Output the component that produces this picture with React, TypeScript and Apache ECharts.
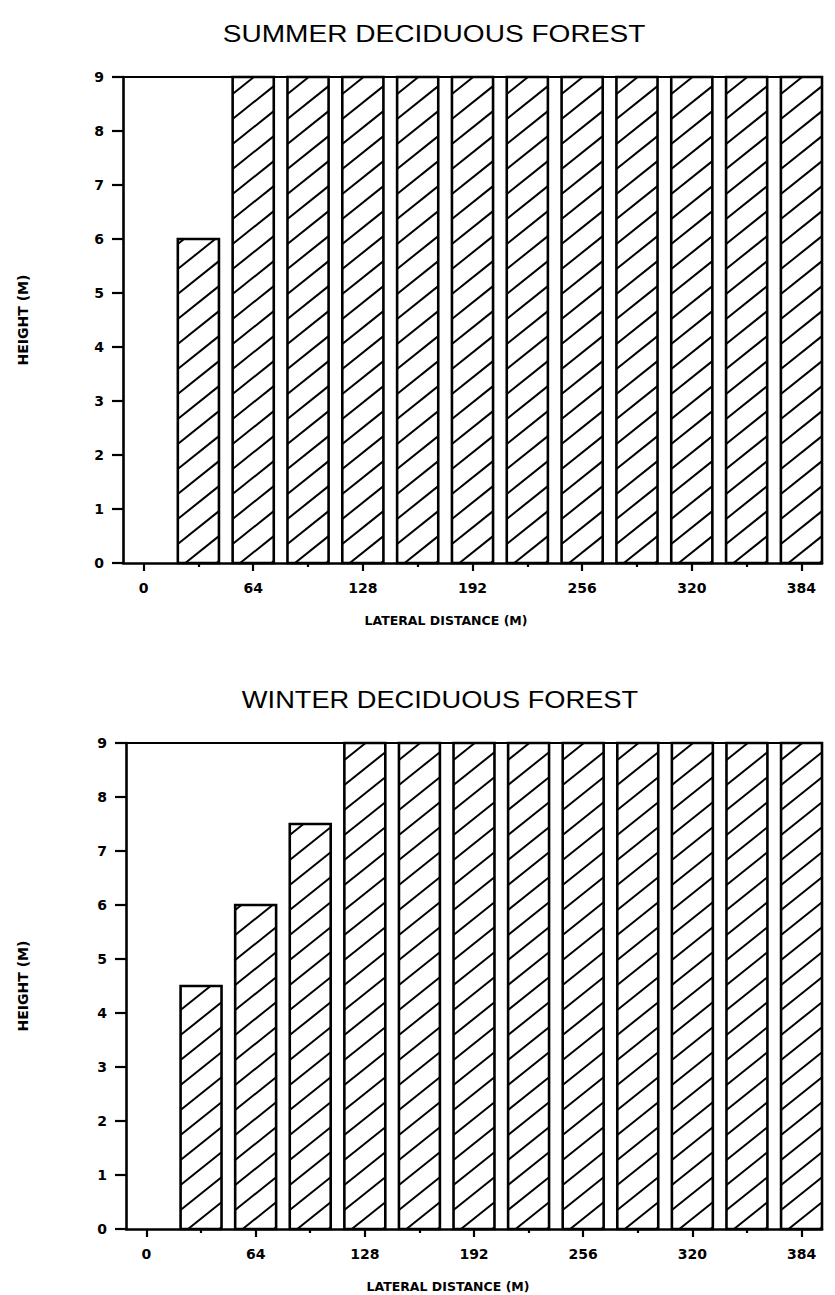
import React, { useEffect, useRef } from "react";
import * as echarts from "echarts";

// ---- data ----
const distances = [32, 64, 96, 128, 160, 192, 224, 256, 288, 320, 352, 384];
const summerHeights = [6, 9, 9, 9, 9, 9, 9, 9, 9, 9, 9, 9];
const winterHeights = [4.5, 6, 7.5, 9, 9, 9, 9, 9, 9, 9, 9, 9];
const xMajorTicks = [0, 64, 128, 192, 256, 320, 384];
const xMinorTicks = [32, 96, 160, 224, 288, 352];
const panelTitles = ["SUMMER DECIDUOUS FOREST", "WINTER DECIDUOUS FOREST"];
const xAxisTitle = "LATERAL DISTANCE (M)";
const yAxisTitle = "HEIGHT (M)";

const X_MIN = -12;
const X_MAX = 396;
const HALF_BAR = 12; // bar half width in x units
const HATCH_SLOPE = 0.8;
const HATCH_GAP = 25;

const labelFont = {
  color: "#000",
  fontFamily: "DejaVu Sans",
  fontWeight: "bold" as const,
  fontSize: 14,
};

function hatchRenderItem(params: any, api: any) {
  const x = api.value(0);
  const h = api.value(1);
  const p0 = api.coord([x - HALF_BAR, h]);
  const p1 = api.coord([x + HALF_BAR, 0]);
  const x0 = p0[0];
  const yTop = p0[1];
  const x1 = p1[0];
  const yBot = p1[1];
  const s = HATCH_SLOPE;
  const children: any[] = [
    {
      type: "rect",
      shape: { x: x0, y: yTop, width: x1 - x0, height: yBot - yTop },
      style: { fill: "#fff" },
    },
  ];
  const cStart = yTop + s * x0;
  const cEnd = yBot + s * x1;
  const base = yBot + s * x0 + 6;
  const k = Math.ceil((cStart - base) / HATCH_GAP);
  for (let c = base + k * HATCH_GAP; c < cEnd; c += HATCH_GAP) {
    const xa = Math.max(x0, (c - yBot) / s);
    const xb = Math.min(x1, (c - yTop) / s);
    if (xb - xa > 0.5) {
      children.push({
        type: "line",
        shape: { x1: xa, y1: c - s * xa, x2: xb, y2: c - s * xb },
        style: { stroke: "#000", lineWidth: 2 },
      });
    }
  }
  children.push({
    type: "rect",
    shape: { x: x0, y: yTop, width: x1 - x0, height: yBot - yTop },
    style: { fill: "none", stroke: "#000", lineWidth: 2.6 },
  });
  return { type: "group", children };
}

export default function App() {
  const ref = useRef<HTMLDivElement>(null);

  useEffect(() => {
    if (!ref.current) return;
    const chart = echarts.init(ref.current, null, { renderer: "svg" });

    const grids = [
      { left: 123, top: 77, width: 699, height: 486 },
      { left: 126, top: 743, width: 696, height: 486 },
    ];

    const xAxes: any[] = [];
    const yAxes: any[] = [];
    const series: any[] = [];
    const heights = [summerHeights, winterHeights];

    grids.forEach((g, i) => {
      xAxes.push({
        type: "value",
        gridIndex: i,
        min: X_MIN,
        max: X_MAX,
        position: "bottom",
        axisLine: { show: true, onZero: false, lineStyle: { color: "#000", width: 2.6 } },
        axisTick: { show: true, length: 8, customValues: xMajorTicks, lineStyle: { color: "#000", width: 2.2 } },
        axisLabel: { show: true, customValues: xMajorTicks, margin: 18, ...labelFont },
        splitLine: { show: false },
      });
      xAxes.push({
        type: "value",
        gridIndex: i,
        min: X_MIN,
        max: X_MAX,
        position: "bottom",
        axisLine: { show: false, onZero: false },
        axisTick: { show: true, length: 4, customValues: xMinorTicks, lineStyle: { color: "#000", width: 2.2 } },
        axisLabel: { show: false },
        splitLine: { show: false },
      });
      xAxes.push({
        type: "value",
        gridIndex: i,
        min: X_MIN,
        max: X_MAX,
        position: "top",
        axisLine: { show: true, onZero: false, lineStyle: { color: "#000", width: 2.2 } },
        axisTick: { show: false },
        axisLabel: { show: false },
        splitLine: { show: false },
      });
      yAxes.push({
        type: "value",
        gridIndex: i,
        min: 0,
        max: 9,
        interval: 1,
        axisLine: { show: true, onZero: false, lineStyle: { color: "#000", width: 2.6 } },
        axisTick: { show: true, length: 11, lineStyle: { color: "#000", width: 2.2 } },
        axisLabel: { show: true, margin: 19, ...labelFont },
        splitLine: { show: false },
      });
      series.push({
        type: "custom",
        name: panelTitles[i],
        xAxisIndex: i * 3,
        yAxisIndex: i,
        clip: false,
        data: distances.map((d, k) => [d, heights[i][k]]),
        renderItem: hatchRenderItem,
        z: 1,
      });
    });

    const titleStyle = {
      fill: "#000",
      fontFamily: "Liberation Sans",
      fontSize: 24,
      textAlign: "center",
      textVerticalAlign: "middle",
    };
    const axisTitleStyle = {
      fill: "#000",
      fontFamily: "DejaVu Sans",
      fontWeight: "bold",
      fontSize: 12.5,
      textAlign: "center",
      textVerticalAlign: "middle",
    };

    chart.setOption({
      animation: false,
      backgroundColor: "#fff",
      grid: grids,
      xAxis: xAxes,
      yAxis: yAxes,
      series,
      graphic: [
        { type: "text", x: 434, y: 34, scaleX: 1.17, style: { text: panelTitles[0], ...titleStyle } },
        { type: "text", x: 440, y: 700, scaleX: 1.135, style: { text: panelTitles[1], ...titleStyle } },
        { type: "text", x: 446, y: 620, style: { text: xAxisTitle, ...axisTitleStyle } },
        { type: "text", x: 448, y: 1286, style: { text: xAxisTitle, ...axisTitleStyle } },
        { type: "text", x: 23, y: 320, rotation: Math.PI / 2, style: { text: yAxisTitle, ...axisTitleStyle, fontSize: 14 } },
        { type: "text", x: 23, y: 986, rotation: Math.PI / 2, style: { text: yAxisTitle, ...axisTitleStyle, fontSize: 14 } },
      ],
    });

    return () => chart.dispose();
  }, []);

  return (
    <div
      ref={ref}
      style={{ position: "absolute", left: 0, top: 0, width: 835, height: 1295, background: "#fff" }}
    />
  );
}
